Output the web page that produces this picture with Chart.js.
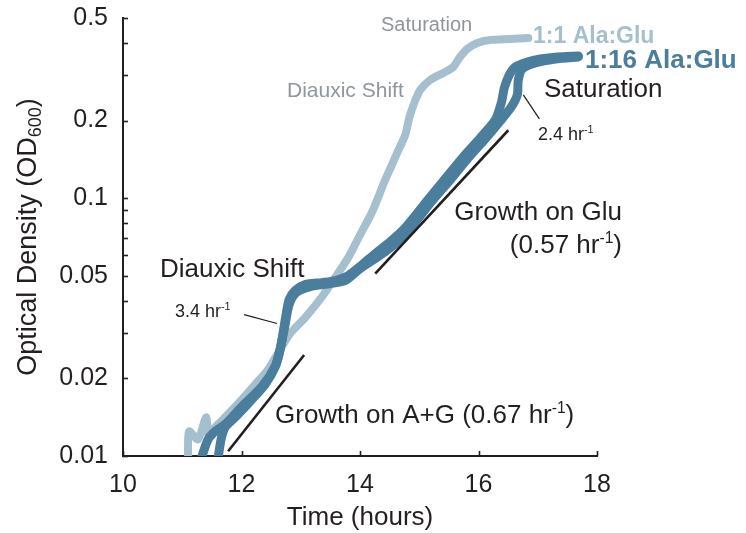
<!DOCTYPE html>
<html>
<head>
<meta charset="utf-8">
<script src="https://cdn.jsdelivr.net/npm/chart.js@4/dist/chart.umd.min.js"></script>
<style>
  html, body { margin: 0; padding: 0; background: #ffffff; }
  #wrap { width: 746px; height: 533px; }
</style>
</head>
<body>
<div id="wrap"><canvas id="growth" width="746" height="533"></canvas></div>
<script>
// Growth curves: time (hours) vs optical density (OD600), log scale
const lightTime = [11.098, 11.115, 11.267, 11.402, 11.453, 11.554, 11.723, 11.976, 12.230, 12.449, 12.652, 12.821, 13.074, 13.361, 13.581, 13.801, 14.003, 14.206, 14.426, 14.628, 14.764, 14.831, 14.916, 15.017, 15.186, 15.405, 15.574, 15.676, 15.811, 15.980, 16.199, 16.537, 16.841];
const lightOD   = [0.0098, 0.01246, 0.01160, 0.01412, 0.01181, 0.01291, 0.01412, 0.01628, 0.01895, 0.02166, 0.02589, 0.02986, 0.03444, 0.04154, 0.04920, 0.05882, 0.07221, 0.08862, 0.1179, 0.1500, 0.1761, 0.2049, 0.2343, 0.2631, 0.2877, 0.3062, 0.3229, 0.3500, 0.3793, 0.4002, 0.4110, 0.4147, 0.4183];

const darkTimeA = [11.334, 11.436, 11.554, 11.723, 12.010, 12.348, 12.568, 12.652, 12.703, 12.753, 12.804, 12.905, 13.074, 13.361, 13.581, 13.801, 14.037, 14.257, 14.510, 14.764, 15.135, 15.439, 15.743, 16.030, 16.284, 16.385, 16.436, 16.520, 16.622, 16.824, 17.044, 17.331, 17.686];
const darkODA   = [0.0100, 0.01160, 0.01246, 0.01327, 0.01557, 0.01862, 0.02225, 0.02589, 0.03013, 0.03537, 0.04045, 0.04382, 0.04623, 0.04706, 0.04791, 0.05009, 0.05525, 0.06095, 0.06785, 0.07686, 0.09777, 0.1190, 0.1447, 0.1714, 0.2013, 0.2343, 0.2679, 0.3008, 0.3229, 0.3377, 0.3468, 0.3531, 0.3562];

const darkTimeB = [11.605, 11.655, 11.723, 11.892, 12.145, 12.399, 12.584, 12.669, 12.736, 12.804, 12.922, 13.159, 13.497, 13.750, 14.003, 14.307, 14.595, 14.882, 15.220, 15.524, 15.828, 16.115, 16.368, 16.554, 16.655, 16.672, 16.740, 16.959, 17.297, 17.686];
const darkODB   = [0.0098, 0.01160, 0.01291, 0.01412, 0.01628, 0.01895, 0.02265, 0.02707, 0.03236, 0.03869, 0.04304, 0.04542, 0.04665, 0.04791, 0.05332, 0.05933, 0.06664, 0.07824, 0.09777, 0.1179, 0.1435, 0.1699, 0.1995, 0.2261, 0.2517, 0.2877, 0.3173, 0.3347, 0.3468, 0.3531];

// Exponential growth fits: rate (1/hr), start time, start OD, end time
const fitAG  = { rate: 0.67, t0: 11.774, od0: 0.01043, t1: 13.057 };
const fitGlu = { rate: 0.57, t0: 14.257, od0: 0.0510,  t1: 16.503 };

// Short pointer lines for the rate call-outs
const pointerShift = { t: [12.044, 12.601], od: [0.03537, 0.03265] };
const pointerSat   = { t: [16.757, 17.027], od: [0.2517, 0.2032] };

// Axis ticks
const xTicks = [10, 12, 14, 16, 18];
const yTicks = [0.01, 0.02, 0.03, 0.04, 0.05, 0.06, 0.07, 0.08, 0.09, 0.1, 0.2, 0.3, 0.4, 0.5];
const yTickLabels = ['0.01', '0.02', '', '', '0.05', '', '', '', '', '0.1', '0.2', '', '', '0.5'];

const LIGHT = '#a5bfcf';
const DARK = '#4b7e9d';
const INK = '#231f20';
const GREY_TEXT = '#8f969c';
const FONT = '"Liberation Sans", Arial, Helvetica, sans-serif';

const pts = (ts, ods) => ts.map((t, i) => ({ x: t, y: ods[i] }));
const fitLine = (f) => [
  { x: f.t0, y: f.od0 },
  { x: f.t1, y: f.od0 * Math.exp(f.rate * (f.t1 - f.t0)) }
];

const curveStyle = (color, width, order) => ({
  borderColor: color, backgroundColor: color, borderWidth: width,
  pointRadius: 0, tension: 0.25, fill: false, order,
  borderCapStyle: 'round', borderJoinStyle: 'round'
});
const inkStyle = (width) => ({
  borderColor: INK, borderWidth: width, pointRadius: 0, tension: 0,
  fill: false, order: 0, borderCapStyle: 'butt'
});

// Text drawn with optional superscript runs
function drawRuns(ctx, runs, x, y, size, weight, color, align) {
  const parts = runs.map(r => {
    const s = r.sup ? size * 0.6 : size;
    ctx.font = `${weight} ${s}px ${FONT}`;
    return { text: r.text, sup: r.sup, size: s, w: ctx.measureText(r.text).width };
  });
  const total = parts.reduce((a, p) => a + p.w, 0);
  let cx = align === 'right' ? x - total : x;
  ctx.fillStyle = color;
  ctx.textBaseline = 'alphabetic';
  ctx.textAlign = 'left';
  parts.forEach(p => {
    ctx.font = `${weight} ${p.size}px ${FONT}`;
    ctx.fillText(p.text, cx, p.sup ? y - size * 0.38 : y);
    cx += p.w;
  });
}

const labels = [
  { runs: [{ text: 'Saturation' }], x: 381, y: 31, size: 20, weight: 'normal', color: GREY_TEXT },
  { runs: [{ text: 'Diauxic Shift' }], x: 287, y: 97, size: 21, weight: 'normal', color: GREY_TEXT },
  { runs: [{ text: '1:1 Ala:Glu' }], x: 533, y: 43, size: 23, weight: 'bold', color: LIGHT },
  { runs: [{ text: '1:16 Ala:Glu' }], x: 585, y: 68, size: 26, weight: 'bold', color: DARK },
  { runs: [{ text: 'Saturation' }], x: 544, y: 97, size: 26, weight: 'normal', color: INK },
  { runs: [{ text: '2.4 hr' }, { text: '-1', sup: true }], x: 538, y: 140, size: 18, weight: 'normal', color: INK },
  { runs: [{ text: 'Growth on Glu' }], x: 622, y: 220, size: 26, weight: 'normal', color: INK, align: 'right' },
  { runs: [{ text: '(0.57 hr' }, { text: '-1', sup: true }, { text: ')' }], x: 622, y: 253, size: 26, weight: 'normal', color: INK, align: 'right' },
  { runs: [{ text: 'Diauxic Shift' }], x: 160, y: 277, size: 26, weight: 'normal', color: INK },
  { runs: [{ text: '3.4 hr' }, { text: '-1', sup: true }], x: 175, y: 317, size: 18, weight: 'normal', color: INK },
  { runs: [{ text: 'Growth on A+G (0.67 hr' }, { text: '-1', sup: true }, { text: ')' }], x: 275, y: 423, size: 26, weight: 'normal', color: INK }
];

const decorations = {
  id: 'decorations',
  beforeDatasetsDraw(chart) {
    const { ctx, scales: { x, y } } = chart;
    ctx.save();
    ctx.strokeStyle = INK;
    ctx.lineWidth = 1.6;
    const len = 5;
    // inward tick marks
    yTicks.forEach(v => {
      const py = Math.round(y.getPixelForValue(v)) + 0.5;
      ctx.beginPath();
      ctx.moveTo(x.left, py);
      ctx.lineTo(x.left + len, py);
      ctx.stroke();
    });
    xTicks.forEach(v => {
      const px = Math.round(x.getPixelForValue(v)) + 0.5;
      ctx.beginPath();
      ctx.moveTo(px, y.bottom);
      ctx.lineTo(px, y.bottom - len);
      ctx.stroke();
    });
    ctx.restore();
  },
  afterDraw(chart) {
    const { ctx, chartArea } = chart;
    ctx.save();
    labels.forEach(l => drawRuns(ctx, l.runs, l.x, l.y, l.size, l.weight, l.color, l.align));

    // vertical axis title with subscript
    const main = 'Optical Density (OD', sub = '600', close = ')';
    const size = 27, subSize = 18;
    ctx.font = `${size}px ${FONT}`;
    const w1 = ctx.measureText(main).width;
    const w3 = ctx.measureText(close).width;
    ctx.font = `${subSize}px ${FONT}`;
    const w2 = ctx.measureText(sub).width;
    const total = w1 + w2 + w3;
    const cy = (chartArea.top + chartArea.bottom) / 2;
    ctx.translate(36, cy);
    ctx.rotate(-Math.PI / 2);
    ctx.fillStyle = INK;
    ctx.textBaseline = 'alphabetic';
    ctx.textAlign = 'left';
    let cx = -total / 2;
    ctx.font = `${size}px ${FONT}`;
    ctx.fillText(main, cx, 0);
    cx += w1;
    ctx.font = `${subSize}px ${FONT}`;
    ctx.fillText(sub, cx, 5);
    cx += w2;
    ctx.font = `${size}px ${FONT}`;
    ctx.fillText(close, cx, 0);
    ctx.restore();
  }
};

new Chart(document.getElementById('growth'), {
  type: 'line',
  data: {
    datasets: [
      { label: '1:1 Ala:Glu', data: pts(lightTime, lightOD), ...curveStyle(LIGHT, 8, 3) },
      { label: '1:16 Ala:Glu (a)', data: pts(darkTimeA, darkODA), ...curveStyle(DARK, 9, 2) },
      { label: '1:16 Ala:Glu (b)', data: pts(darkTimeB, darkODB), ...curveStyle(DARK, 9, 1) },
      { label: 'Growth on A+G', data: fitLine(fitAG), ...inkStyle(2.6) },
      { label: 'Growth on Glu', data: fitLine(fitGlu), ...inkStyle(2.6) },
      { label: 'shift rate', data: pts(pointerShift.t, pointerShift.od), ...inkStyle(1.2) },
      { label: 'saturation rate', data: pts(pointerSat.t, pointerSat.od), ...inkStyle(1.2) }
    ]
  },
  options: {
    responsive: false,
    animation: false,
    events: [],
    layout: { padding: { top: 18, right: 149, bottom: 0, left: 0 } },
    plugins: { legend: { display: false }, tooltip: { enabled: false }, title: { display: false } },
    scales: {
      x: {
        type: 'linear', min: 10, max: 18,
        afterFit: s => { s.height = 77; s.paddingLeft = 0; s.paddingRight = 0; },
        afterBuildTicks: s => { s.ticks = xTicks.map(v => ({ value: v })); },
        grid: { display: false },
        border: { display: true, color: INK, width: 2 },
        ticks: { autoSkip: false, maxRotation: 0, padding: 6, color: INK, font: { family: FONT, size: 25 } },
        title: { display: true, text: 'Time (hours)', color: INK, font: { family: FONT, size: 26 }, padding: { top: 0, bottom: 0 } }
      },
      y: {
        type: 'logarithmic', min: 0.01, max: 0.5,
        afterFit: s => { s.width = 123; s.paddingTop = 0; s.paddingBottom = 0; },
        afterBuildTicks: s => { s.ticks = yTicks.map(v => ({ value: v })); },
        grid: { display: false },
        border: { display: true, color: INK, width: 2 },
        ticks: {
          autoSkip: false, padding: 7, color: INK, font: { family: FONT, size: 25 },
          callback: (v) => { const i = yTicks.indexOf(v); return i >= 0 ? yTickLabels[i] : ''; }
        }
      }
    }
  },
  plugins: [decorations]
});
</script>
</body>
</html>
